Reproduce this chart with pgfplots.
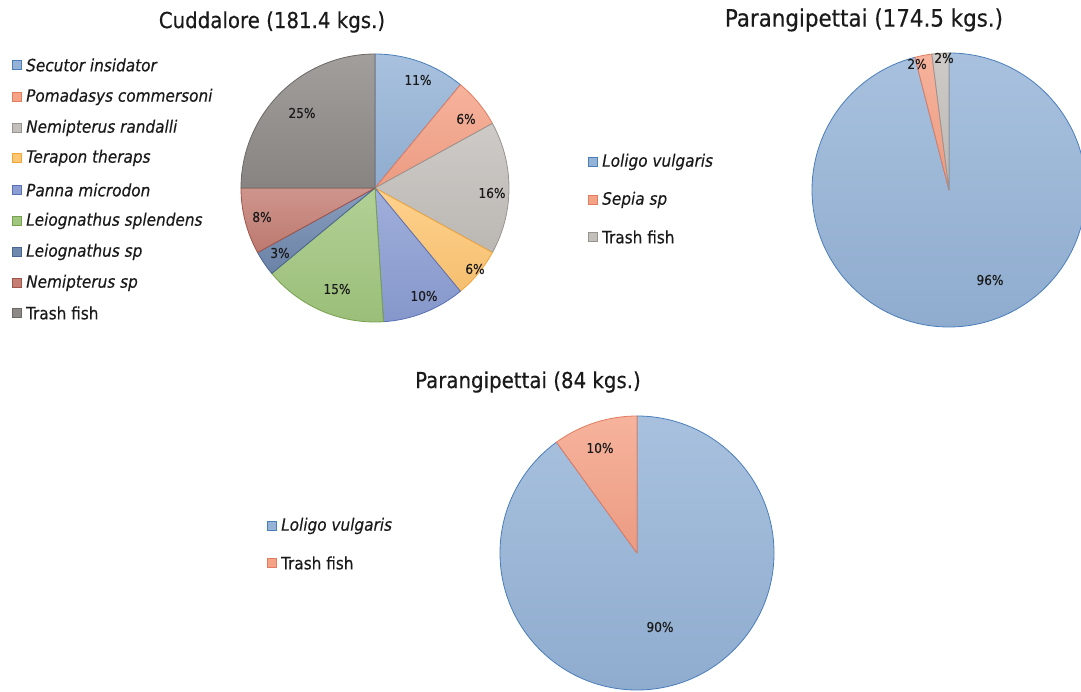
\documentclass[border=0pt]{standalone}
\usepackage{fontspec}
\setmainfont{DejaVu Sans Condensed}[FakeBold=0.35]
\usepackage{pgfplots}
\usepackage{pgfplotstable}
\pgfplotsset{compat=1.18}

\definecolor{cblue}{HTML}{95B3D7}
\definecolor{dblue}{HTML}{4A7EBB}
\definecolor{csalmon}{HTML}{F5A287}
\definecolor{dsalmon}{HTML}{E27D60}
\definecolor{cgrey}{HTML}{C3BFBB}
\definecolor{dgrey}{HTML}{98938E}
\definecolor{corange}{HTML}{FFC774}
\definecolor{dorange}{HTML}{F2A53A}
\definecolor{cperi}{HTML}{8B9DD3}
\definecolor{dperi}{HTML}{5A70B4}
\definecolor{cgreen}{HTML}{A1C67E}
\definecolor{dgreen}{HTML}{77A14D}
\definecolor{cslate}{HTML}{6F88AE}
\definecolor{dslate}{HTML}{4A6591}
\definecolor{cred}{HTML}{C47E74}
\definecolor{dred}{HTML}{A0544B}
\definecolor{cdark}{HTML}{8D8986}
\definecolor{ddark}{HTML}{6C6865}
\definecolor{txt}{HTML}{1A1A1A}

% Cuddalore (181.4 kgs.)
\pgfplotstableread{
val fc dc lx ly
11 cblue dblue 418 80
6 csalmon dsalmon 466 119
16 cgrey dgrey 492 193
6 corange dorange 475 269
10 cperi dperi 424 296
15 cgreen dgreen 337 289
3 cslate dslate 280 253
8 cred dred 262 217
25 cdark ddark 302 113
}\cudtab

% Parangipettai (174.5 kgs.)
\pgfplotstableread{
val fc dc lx ly
96 cblue dblue 990 280
2 csalmon dsalmon 917 64
2 cgrey dgrey 944 58
}\partabA

% Parangipettai (84 kgs.)
\pgfplotstableread{
val fc dc lx ly
90 cblue dblue 660 627
10 csalmon dsalmon 600 448
}\partabB

\newcommand\pctfont{\fontsize{13.5bp}{16bp}\selectfont}
\newcommand\legfont{\fontsize{17bp}{20bp}\selectfont}
\newcommand\titfont{\fontsize{22bp}{26bp}\selectfont}
\newcommand\titfontb{\fontsize{23.8bp}{28bp}\selectfont}

% #1 table, #2 cx, #3 cy, #4 radius
\newcommand\drawpie[4]{%
  \pgfplotstablegetrowsof{#1}\pgfmathtruncatemacro\lastrow{\pgfplotsretval-1}%
  \def\cum{0}%
  \pgfplotsforeachungrouped \i in {0,...,\lastrow}{%
    \pgfplotstablegetelem{\i}{val}\of#1\let\v\pgfplotsretval
    \pgfplotstablegetelem{\i}{fc}\of#1\let\fc\pgfplotsretval
    \pgfplotstablegetelem{\i}{dc}\of#1\let\dc\pgfplotsretval
    \pgfmathsetmacro\aS{90-3.6*\cum}%
    \pgfmathsetmacro\cumn{\cum+\v}%
    \pgfmathsetmacro\aE{90-3.6*\cumn}%
    \pgfmathsetmacro\sx{#2+#4*cos(\aS)}%
    \pgfmathsetmacro\sy{#3+#4*sin(\aS)}%
    \edef\temp{\noexpand\shadedraw[top color=\fc!82!white, bottom color=\fc!96!black, draw=\dc, line width=0.8bp, line join=round]
      (axis cs:#2,#3) -- (axis cs:\sx,\sy) arc[start angle=\aS, end angle=\aE, radius=#4bp] -- cycle;}%
    \temp
    \let\cum\cumn
  }%
  \pgfplotsforeachungrouped \i in {0,...,\lastrow}{%
    \pgfplotstablegetelem{\i}{val}\of#1\let\v\pgfplotsretval
    \pgfplotstablegetelem{\i}{lx}\of#1\let\lx\pgfplotsretval
    \pgfplotstablegetelem{\i}{ly}\of#1\let\ly\pgfplotsretval
    \pgfmathsetmacro\lyy{692-\ly}%
    \edef\temp{\noexpand\node[text=txt, font=\noexpand\pctfont, inner sep=0pt] at (axis cs:\lx,\lyy) {\v\noexpand\%};}%
    \temp
  }%
}

% legend entry: #1 x of square, #2 y (pixel, top-down), #3 fill, #4 draw, #5 text
\newcommand\legentry[5]{%
  \draw[fill=#3, draw=#4, line width=0.6bp] (axis cs:#1,692-#2-4.5) rectangle (axis cs:#1+9,692-#2+4.5);
  \node[anchor=west, text=txt, font=\legfont, inner sep=0pt] at (axis cs:#1+14,692-#2) {#5};
}

\begin{document}
\begin{tikzpicture}
\begin{axis}[
  scale only axis,
  width=1081bp, height=692bp,
  xmin=0, xmax=1081, ymin=0, ymax=692,
  hide axis,
]
\path (axis cs:0,0) rectangle (axis cs:1081,692);

\drawpie{\cudtab}{375}{504}{134}
\drawpie{\partabA}{949}{502}{137}
\drawpie{\partabB}{637}{139}{137}

% titles
\node[text=txt, font=\titfont, inner sep=0pt] at (axis cs:272,670) {Cuddalore (181.4 kgs.)};
\node[text=txt, font=\titfontb, inner sep=0pt] at (axis cs:864,672) {Parangipettai (174.5 kgs.)};
\node[text=txt, font=\titfont, inner sep=0pt] at (axis cs:528,310) {Parangipettai (84 kgs.)};

% legend 1
\legentry{12}{65}{cblue}{dblue}{\itshape Secutor insidator}
\legentry{12}{97}{csalmon}{dsalmon}{\itshape Pomadasys commersoni}
\legentry{12}{128}{cgrey}{dgrey}{\itshape Nemipterus randalli}
\legentry{12}{158}{corange}{dorange}{\itshape Terapon theraps}
\legentry{12}{190}{cperi}{dperi}{\itshape Panna microdon}
\legentry{12}{221}{cgreen}{dgreen}{\itshape Leiognathus splendens}
\legentry{12}{252}{cslate}{dslate}{\itshape Leiognathus sp}
\legentry{12}{283}{cred}{dred}{\itshape Nemipterus sp}
\legentry{12}{313}{cdark}{ddark}{Trash fish}

% legend 2
\legentry{588}{162}{cblue}{dblue}{\itshape Loligo vulgaris}
\legentry{588}{200}{csalmon}{dsalmon}{\itshape Sepia sp}
\legentry{588}{237}{cgrey}{dgrey}{Trash fish}

% legend 3
\legentry{267}{526}{cblue}{dblue}{\itshape Loligo vulgaris}
\legentry{267}{563}{csalmon}{dsalmon}{Trash fish}
\end{axis}
\end{tikzpicture}
\end{document}
